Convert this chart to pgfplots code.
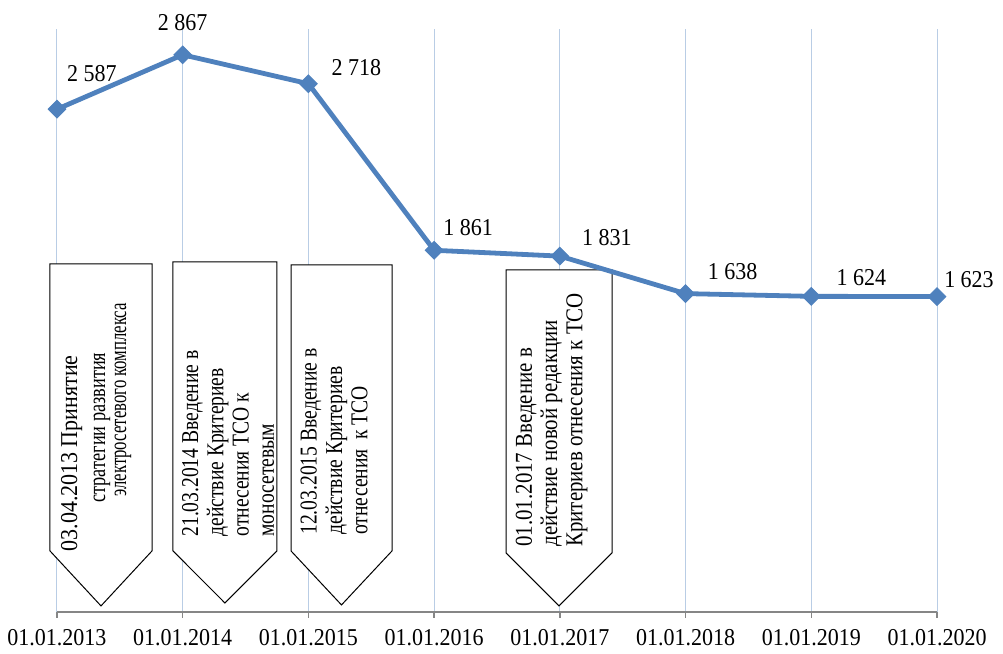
\documentclass[border=0pt,11pt]{standalone}
\usepackage{fontspec}
\setmainfont{Liberation Serif}
\usepackage{graphicx}
\usepackage{pgfplots}
\pgfplotsset{compat=1.18}
\definecolor{linecol}{RGB}{79,129,189}
\definecolor{gridcol}{RGB}{185,205,229}
\definecolor{axcol}{RGB}{134,134,134}
\newcommand\vs[1]{\scalebox{1}[1.1]{#1}}
\newcommand\ct[2]{\scalebox{#1}[1.1]{\begin{tabular}{@{}l@{}}#2\end{tabular}}}
\begin{document}
\begin{tikzpicture}
\begin{axis}[
  scale only axis,
  width=440pt, height=291.5pt,
  xmin=0, xmax=7, ymin=0, ymax=3000,
  axis x line=bottom, axis y line=none,
  x axis line style={-, draw=axcol, line width=0.75pt},
  xtick={0,...,7},
  xticklabels={\vs{01.01.2013},\vs{01.01.2014},\vs{01.01.2015},\vs{01.01.2016},\vs{01.01.2017},\vs{01.01.2018},\vs{01.01.2019},\vs{01.01.2020}},
  xticklabel style={font=\fontsize{11}{12}\selectfont, yshift=-2pt},
  tick align=outside,
  major tick length=3pt,
  x tick style={draw=axcol, line width=0.75pt},
  ytick=\empty,
  xmajorgrids,
  grid style={draw=gridcol, line width=0.5pt},
  clip=false,
]
% invisible frame for the page size
\path (axis cs:-0.4534,-175) rectangle (axis cs:7.525,3149);
% callouts
\tikzset{callout/.style={draw=black, line width=0.5pt, fill=white}}
\draw[callout] (axis cs:-0.0557,1791) -- (axis cs:0.7557,1791) -- (axis cs:0.7557,314) -- (axis cs:0.350,31) -- (axis cs:-0.0557,314) -- cycle;
\draw[callout] (axis cs:0.9227,1801) -- (axis cs:1.750,1801) -- (axis cs:1.750,314) -- (axis cs:1.336,46) -- (axis cs:0.9227,314) -- cycle;
\draw[callout] (axis cs:1.8614,1786) -- (axis cs:2.6648,1786) -- (axis cs:2.6648,314) -- (axis cs:2.263,36) -- (axis cs:1.8614,314) -- cycle;
\draw[callout] (axis cs:3.5716,1760) -- (axis cs:4.4148,1760) -- (axis cs:4.4148,304) -- (axis cs:3.993,31) -- (axis cs:3.5716,304) -- cycle;
\tikzset{ctext/.style={rotate=90, anchor=west, inner sep=0pt, font=\fontsize{11}{11.5}\selectfont}}
\node[ctext] at (axis cs:0.119,309) {\ct{1}{03.04.2013 Принятие}};
\node[ctext] at (axis cs:0.342,561) {\ct{0.83}{стратегии развития}};
\node[ctext] at (axis cs:0.509,592) {\ct{0.76}{электросетевого комплекса}};
\node[ctext] at (axis cs:1.384,386) {\ct{0.89}{21.03.2014 Введение в\\действие Критериев\\отнесения ТСО к\\моносетевым}};
\node[ctext] at (axis cs:2.227,396) {\ct{0.89}{12.03.2015 Введение в\\действие Критериев\\отнесения~~к ТСО}};
\node[ctext] at (axis cs:3.9375,334) {\ct{0.95}{01.01.2017 Введение в\\действие новой редакции\\Критериев отнесения к ТСО}};
% data
\addplot[color=linecol, line width=2.4pt, mark=square*, mark size=3.1pt,
  mark options={rotate=45, fill=linecol, draw=linecol, line width=0.5pt}]
  coordinates {(0,2587) (1,2867) (2,2718) (3,1861) (4,1831) (5,1638) (6,1624) (7,1623)};
% data labels
\tikzset{dl/.style={inner sep=0pt, font=\fontsize{11}{12}\selectfont}}
\node[dl, xshift=17.5pt, yshift=18pt] at (axis cs:0,2587) {\vs{2 587}};
\node[dl, xshift=0pt, yshift=16pt] at (axis cs:1,2867) {\vs{2 867}};
\node[dl, xshift=24pt, yshift=8pt] at (axis cs:2,2718) {\vs{2 718}};
\node[dl, xshift=17pt, yshift=11.5pt] at (axis cs:3,1861) {\vs{1 861}};
\node[dl, xshift=23.5pt, yshift=9.5pt] at (axis cs:4,1831) {\vs{1 831}};
\node[dl, xshift=23.5pt, yshift=11pt] at (axis cs:5,1638) {\vs{1 638}};
\node[dl, xshift=25pt, yshift=9.5pt] at (axis cs:6,1624) {\vs{1 624}};
\node[dl, xshift=16pt, yshift=8.5pt] at (axis cs:7,1623) {\vs{1 623}};
\end{axis}
\end{tikzpicture}
\end{document}
